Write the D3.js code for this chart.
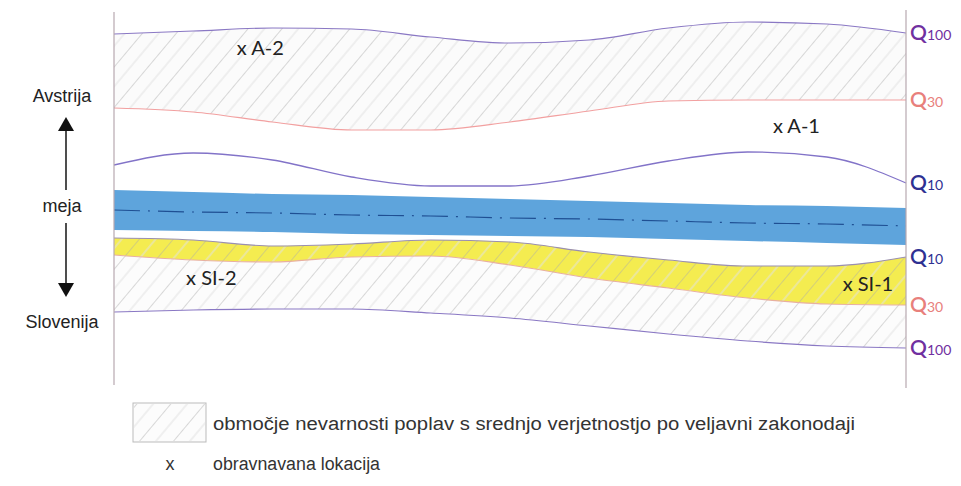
<!DOCTYPE html>
<html>
<head>
<meta charset="utf-8">
<script src="https://cdn.jsdelivr.net/npm/d3@7/dist/d3.min.js"></script>
<style>
  html, body { margin: 0; padding: 0; background: #fff; }
  svg { display: block; }
</style>
</head>
<body>
<svg id="chart" width="961" height="486"></svg>
<script>
// Postaje vzdolž toka (0 = levi rob, 100 = desni rob)
const stations = [0, 10, 20, 30, 40, 50, 60, 70, 80, 90, 100];

// Lega linij (od vrha navzdol) – odčitano s slike
const q100Top    = [34, 31, 28, 29, 37, 43, 40, 28, 22, 24, 33];
const q30Top     = [108, 112, 122, 130, 130, 122, 111, 101, 100, 100, 100];
const q10Top     = [165, 153, 160, 177, 186, 186, 176, 161, 152, 157, 183];
const riverTop   = [190, 192, 194, 195, 197, 199, 201, 203, 205, 206, 208];
const riverAxis  = [210, 212, 213, 215, 216, 218, 219, 221, 223, 224, 226];
const riverBot   = [230, 231, 232, 234, 235, 236, 237, 239, 241, 243, 245];
const q10Bot     = [238, 240, 246, 244, 240, 242, 252, 260, 266, 266, 257];
const q30Bot     = [255, 260, 262, 257, 256, 265, 278, 288, 298, 304, 305];
const q100Bot    = [312, 310, 309, 309, 313, 318, 326, 334, 341, 346, 348];

// Oznake na desni strani
const rightLabels = [
  { main: 'Q', sub: '100', line: q100Top, color: '#7030a0' },
  { main: 'Q', sub: '30',  line: q30Top,  color: '#e8807c' },
  { main: 'Q', sub: '10',  line: q10Top,  color: '#2e3192' },
  { main: 'Q', sub: '10',  line: q10Bot,  color: '#2e3192' },
  { main: 'Q', sub: '30',  line: q30Bot,  color: '#e8807c' },
  { main: 'Q', sub: '100', line: q100Bot, color: '#7030a0' }
];

// Obravnavane lokacije (levi rob napisa)
const locations = [
  { name: 'x A-2',  s: 15.5, y: 50 },
  { name: 'x A-1',  s: 83.2, y: 128 },
  { name: 'x SI-2', s: 9.1,  y: 280 },
  { name: 'x SI-1', s: 92.0, y: 286 }
];

const svg = d3.select('#chart');
const x = d3.scaleLinear().domain([0, 100]).range([114, 906]);
const y = d3.scaleLinear().domain([0, 486]).range([0, 486]);

// Šrafura za območje nevarnosti
const defs = svg.append('defs');
const hatch = defs.append('pattern')
  .attr('id', 'hatch')
  .attr('patternUnits', 'userSpaceOnUse')
  .attr('width', 26)
  .attr('height', 26)
  .attr('patternTransform', 'rotate(40)');
hatch.append('line')
  .attr('x1', 0).attr('y1', 0).attr('x2', 0).attr('y2', 26)
  .attr('stroke', '#ababab').attr('stroke-width', 0.9);
hatch.append('line')
  .attr('x1', 13).attr('y1', 0).attr('x2', 13).attr('y2', 26)
  .attr('stroke', '#e2e2e2').attr('stroke-width', 1);

const pts = arr => stations.map((s, i) => [s, arr[i]]);
const curve = d3.curveMonotoneX;

const line = d3.line()
  .x(d => x(d[0]))
  .y(d => y(d[1]))
  .curve(curve);

function band(topArr, botArr, fill) {
  const area = d3.area()
    .x((d, i) => x(stations[i]))
    .y0((d, i) => y(topArr[i]))
    .y1((d, i) => y(botArr[i]))
    .curve(curve);
  return svg.append('path').attr('d', area(stations)).attr('fill', fill);
}

// Ploskve
band(q100Top, q30Top, '#fbfbfb');
band(q100Top, q30Top, 'url(#hatch)');
band(riverTop, riverBot, '#5ea4dc');
band(q10Bot, q30Bot, '#f4ec50');
band(q30Bot, q100Bot, '#fcfcfc');
band(q10Bot, q100Bot, 'url(#hatch)');

// Linije
function drawLine(arr, color, width, dash) {
  svg.append('path')
    .attr('d', line(pts(arr)))
    .attr('fill', 'none')
    .attr('stroke', color)
    .attr('stroke-width', width)
    .attr('stroke-dasharray', dash || null);
}
drawLine(q100Top, '#8a78c4', 1.2);
drawLine(q30Top, '#f2a0a0', 1.2);
drawLine(q10Top, '#8273c8', 1.3);
drawLine(riverAxis, '#1f4f93', 1.2, '26,8,2,8');
drawLine(q10Bot, '#9a8fb0', 1.2);
drawLine(q30Bot, '#e8b0a0', 1.2);
drawLine(q100Bot, '#8a78c4', 1.2);

// Navpični robovi
svg.append('line').attr('x1', 114).attr('x2', 114).attr('y1', 12).attr('y2', 385)
  .attr('stroke', '#b8a8b0').attr('stroke-width', 1.2);
svg.append('line').attr('x1', 906).attr('x2', 906).attr('y1', 10).attr('y2', 388)
  .attr('stroke', '#b8a8b0').attr('stroke-width', 1.2);

// Desne oznake
rightLabels.forEach(l => {
  const t = svg.append('text')
    .attr('x', 910)
    .attr('y', y(l.line[l.line.length - 1]) + 7)
    .attr('font-family', 'Lato, "Open Sans", sans-serif')
    .attr('font-size', 21)
    .attr('font-weight', 600)
    .attr('fill', l.color);
  t.append('tspan').text(l.main);
  t.append('tspan').attr('font-size', 14).attr('font-weight', 400).text(l.sub);
});

// Lokacije
svg.selectAll('text.loc')
  .data(locations)
  .join('text')
  .attr('class', 'loc')
  .attr('x', d => x(d.s))
  .attr('y', d => d.y)
  .attr('dominant-baseline', 'middle')
  .attr('font-family', 'Lato, "Open Sans", sans-serif')
  .attr('font-size', 20)
  .attr('fill', '#222')
  .text(d => d.name);

// Leva stran: države in meja
const leftFont = '"Liberation Sans", Arial, sans-serif';
[['Avstrija', 97], ['meja', 207], ['Slovenija', 323]].forEach(([txt, yy]) => {
  svg.append('text')
    .attr('x', 62).attr('y', yy)
    .attr('text-anchor', 'middle')
    .attr('dominant-baseline', 'middle')
    .attr('font-family', leftFont)
    .attr('font-size', 18)
    .attr('fill', '#222')
    .text(txt);
});
svg.append('line').attr('x1', 66).attr('x2', 66).attr('y1', 128).attr('y2', 190)
  .attr('stroke', '#222').attr('stroke-width', 1.6);
svg.append('path').attr('d', 'M66,117 L58,131 L74,131 Z').attr('fill', '#111');
svg.append('line').attr('x1', 66).attr('x2', 66).attr('y1', 223).attr('y2', 286)
  .attr('stroke', '#222').attr('stroke-width', 1.6);
svg.append('path').attr('d', 'M66,297 L58,283 L74,283 Z').attr('fill', '#111');

// Legenda
svg.append('rect')
  .attr('x', 133).attr('y', 403).attr('width', 73).attr('height', 39)
  .attr('fill', '#fcfcfc').attr('stroke', '#bbb').attr('stroke-width', 1);
svg.append('rect')
  .attr('x', 134).attr('y', 404).attr('width', 71).attr('height', 37)
  .attr('fill', 'url(#hatch)');
const legendFont = '"Liberation Sans Narrow", "Arial Narrow", "Liberation Sans", sans-serif';
svg.append('text')
  .attr('x', 213).attr('y', 430)
  .attr('font-family', legendFont)
  .attr('font-size', 18)
  .attr('textLength', 642)
  .attr('lengthAdjust', 'spacingAndGlyphs')
  .attr('fill', '#333')
  .text('območje nevarnosti poplav s srednjo verjetnostjo po veljavni zakonodaji');
svg.append('text')
  .attr('x', 170).attr('y', 470)
  .attr('text-anchor', 'middle')
  .attr('font-family', legendFont)
  .attr('font-size', 18)
  .attr('fill', '#333')
  .text('x');
svg.append('text')
  .attr('x', 213).attr('y', 470)
  .attr('font-family', legendFont)
  .attr('font-size', 18)
  .attr('textLength', 167)
  .attr('lengthAdjust', 'spacingAndGlyphs')
  .attr('fill', '#333')
  .text('obravnavana lokacija');
</script>
</body>
</html>
